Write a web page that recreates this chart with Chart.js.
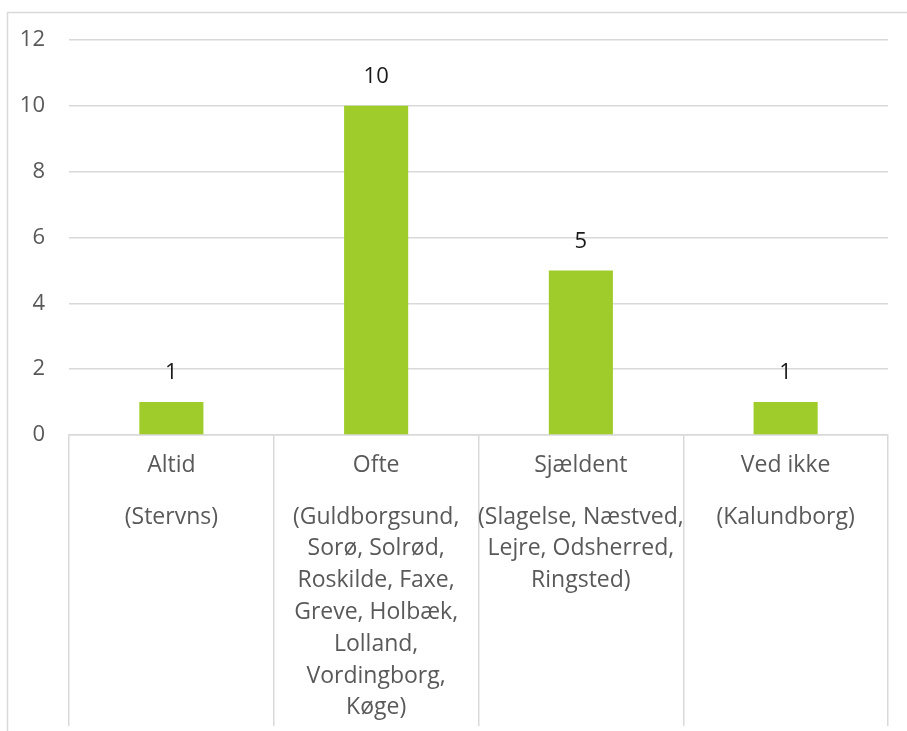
<!DOCTYPE html>
<html>
<head>
<meta charset="utf-8">
<script src="https://cdn.jsdelivr.net/npm/chart.js@4/dist/chart.umd.min.js"></script>
<style>
  body { margin: 0; background: #fff; }
  #wrap { width: 907px; height: 731px; position: relative; }
</style>
</head>
<body>
<div id="wrap"><canvas id="grafico"></canvas></div>
<script>
const kategorier = ["Altid", "Ofte", "Sjældent", "Ved ikke"];
const kommuner = [
    ["(Stervns)"],
    ["(Guldborgsund,", "Sorø, Solrød,", "Roskilde, Faxe,", "Greve, Holbæk,", "Lolland,", "Vordingborg,", "Køge)"],
    ["(Slagelse, Næstved,", "Lejre, Odsherred,", "Ringsted)"],
    ["(Kalundborg)"]
];
const antal = [1, 10, 5, 1];
const yMin = 0;
const yMax = 12;
const yStep = 2;

const fontNavn = "'Open Sans', sans-serif";
const graa = "#595959";
const linjeFarve = "#D9D9D9";

// ramme rundt om diagrammet (venstre og top)
const rammePlugin = {
    id: "ramme",
    beforeDraw(chart) {
        const ctx = chart.ctx;
        ctx.save();
        ctx.strokeStyle = linjeFarve;
        ctx.lineWidth = 1.5;
        ctx.beginPath();
        ctx.moveTo(7.5, chart.height);
        ctx.lineTo(7.5, 12.5);
        ctx.lineTo(chart.width, 12.5);
        ctx.stroke();
        ctx.restore();
    }
};

// tal over søjlerne
const vaerdiPlugin = {
    id: "vaerdier",
    afterDatasetsDraw(chart) {
        const ctx = chart.ctx;
        const meta = chart.getDatasetMeta(0);
        ctx.save();
        ctx.font = "22px " + fontNavn;
        ctx.fillStyle = "#1a1a1a";
        ctx.textAlign = "center";
        ctx.textBaseline = "middle";
        meta.data.forEach(function (bar, i) {
            ctx.fillText(String(antal[i]), bar.x, bar.y - 29);
        });
        ctx.restore();
    }
};

// kategori-navne og kommuner under x-aksen
const kategoriPlugin = {
    id: "kategorier",
    afterDraw(chart) {
        const ctx = chart.ctx;
        const xAkse = chart.scales.x;
        const bund = xAkse.top;
        ctx.save();
        ctx.font = "23px " + fontNavn;
        ctx.fillStyle = graa;
        ctx.textAlign = "center";
        ctx.textBaseline = "middle";
        kategorier.forEach(function (navn, i) {
            const x = xAkse.getPixelForValue(i);
            ctx.fillText(navn, x, bund + 30);
            kommuner[i].forEach(function (linje, j) {
                ctx.fillText(linje, x, bund + 82 + j * 31.8);
            });
        });
        ctx.restore();
    }
};

const data = {
    labels: kategorier,
    datasets: [{
        data: antal,
        backgroundColor: "#A0CC2B",
        borderWidth: 0,
        barPercentage: 1,
        categoryPercentage: 0.313
    }]
};

const config = {
    type: "bar",
    data: data,
    options: {
        responsive: true,
        maintainAspectRatio: false,
        animation: false,
        layout: { padding: { left: 0, right: 19, top: 40, bottom: 5 } },
        plugins: {
            legend: { display: false },
            tooltip: { enabled: false }
        },
        scales: {
            x: {
                offset: true,
                grid: {
                    display: true,
                    drawOnChartArea: false,
                    drawTicks: true,
                    tickLength: 291,
                    color: linjeFarve,
                    lineWidth: 1.5
                },
                border: { display: true, color: linjeFarve, width: 1.5 },
                ticks: { display: false }
            },
            y: {
                min: yMin,
                max: yMax,
                ticks: {
                    stepSize: yStep,
                    color: graa,
                    padding: 24,
                    font: { family: fontNavn, size: 22 }
                },
                grid: { color: linjeFarve, lineWidth: 1.5, drawTicks: false },
                border: { display: false },
                afterFit(scale) { scale.width = 69; }
            }
        }
    },
    plugins: [rammePlugin, vaerdiPlugin, kategoriPlugin]
};

new Chart(document.getElementById("grafico"), config);
</script>
</body>
</html>
